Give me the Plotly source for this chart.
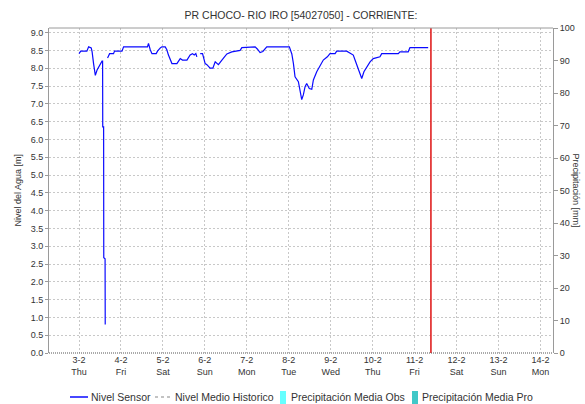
import plotly.graph_objects as go

# ---- data ----
sensor_time = [
    "2022-02-03 00:00", "2022-02-03 01:00", "2022-02-03 04:30", "2022-02-03 05:30",
    "2022-02-03 07:00", "2022-02-03 07:30", "2022-02-03 08:20", "2022-02-03 09:20",
    "2022-02-03 10:20", "2022-02-03 11:45", "2022-02-03 13:10", "2022-02-03 13:30",
    "2022-02-03 13:35", "2022-02-03 14:05", "2022-02-03 14:10", "2022-02-03 14:55",
    "2022-02-03 15:00", "2022-02-03 15:40",
    "2022-02-03 16:20", "2022-02-03 17:30", "2022-02-03 19:45", "2022-02-03 20:20",
    "2022-02-04 00:35", "2022-02-04 01:30", "2022-02-04 15:10", "2022-02-04 15:45",
    "2022-02-04 16:45", "2022-02-04 17:45", "2022-02-04 20:10", "2022-02-04 20:55",
    "2022-02-04 22:30", "2022-02-04 23:25", "2022-02-05 01:20", "2022-02-05 02:15",
    "2022-02-05 03:10", "2022-02-05 05:10", "2022-02-05 08:00", "2022-02-05 09:55",
    "2022-02-05 11:10", "2022-02-05 13:45", "2022-02-05 15:35", "2022-02-05 16:55",
    "2022-02-05 17:55", "2022-02-05 18:50", "2022-02-05 19:25", "2022-02-05 20:20",
    "2022-02-05 21:20", "2022-02-05 22:40", "2022-02-06 00:10", "2022-02-06 01:10",
    "2022-02-06 03:00", "2022-02-06 04:35", "2022-02-06 05:55", "2022-02-06 07:45",
    "2022-02-06 09:45", "2022-02-06 12:35", "2022-02-06 15:25", "2022-02-06 20:10",
    "2022-02-06 21:10", "2022-02-07 04:45", "2022-02-07 06:00", "2022-02-07 07:35",
    "2022-02-07 09:10", "2022-02-07 11:25", "2022-02-08 00:20", "2022-02-08 01:45",
    "2022-02-08 02:40", "2022-02-08 03:35", "2022-02-08 05:30", "2022-02-08 06:30",
    "2022-02-08 07:25", "2022-02-08 08:20", "2022-02-08 09:20", "2022-02-08 10:15",
    "2022-02-08 11:45", "2022-02-08 13:10", "2022-02-08 14:05", "2022-02-08 16:00",
    "2022-02-08 17:55", "2022-02-08 19:45", "2022-02-08 22:05", "2022-02-08 23:35",
    "2022-02-09 02:30", "2022-02-09 03:25", "2022-02-09 09:10", "2022-02-09 11:00",
    "2022-02-09 12:55", "2022-02-09 13:55", "2022-02-09 15:45", "2022-02-09 17:45",
    "2022-02-09 19:00", "2022-02-09 20:35", "2022-02-09 22:30", "2022-02-10 00:20",
    "2022-02-10 04:10", "2022-02-10 05:10", "2022-02-10 14:40", "2022-02-10 15:35",
    "2022-02-10 20:20", "2022-02-10 21:20", "2022-02-11 07:45",
]
sensor_level = [
    8.41, 8.48, 8.48, 8.60,
    8.57, 8.46, 8.13, 7.80,
    7.95, 8.09, 8.20, 8.20,
    6.35, 6.35, 2.68, 2.65,
    0.80, None,
    8.29, 8.41, 8.41, 8.48,
    8.48, 8.60, 8.60, 8.70,
    8.52, 8.41, 8.41, 8.48,
    8.57, 8.60, 8.60, 8.52,
    8.37, 8.13, 8.13, 8.27,
    8.23, 8.23, 8.37, 8.41,
    8.37, 8.41, 8.32, None,
    8.41, 8.41, 8.13, 8.10,
    8.00, 8.00, 8.18, 8.10,
    8.23, 8.40, 8.46, 8.50,
    8.58, 8.60, 8.54, 8.44,
    8.47, 8.60, 8.60, 8.40,
    8.13, 7.76, 7.62, 7.34,
    7.12, 7.25, 7.48, 7.57,
    7.43, 7.41, 7.67, 7.90,
    8.09, 8.23, 8.32, 8.41,
    8.41, 8.48, 8.48, 8.42,
    8.37, 8.23, 8.00, 7.71,
    7.90, 8.04, 8.18, 8.27,
    8.32, 8.41, 8.41, 8.46,
    8.46, 8.58, 8.58,
]
now_time = "2022-02-11 09:20"
day_ticks = [f"2022-02-{d:02d}" for d in range(3, 15)]
day_labels = ["3-2<br>Thu", "4-2<br>Fri", "5-2<br>Sat", "6-2<br>Sun", "7-2<br>Mon",
              "8-2<br>Tue", "9-2<br>Wed", "10-2<br>Thu", "11-2<br>Fri", "12-2<br>Sat",
              "13-2<br>Sun", "14-2<br>Mon"]
x_range = ["2022-02-02 06:50", "2022-02-14 07:10"]
level_ticks = [i * 0.5 for i in range(19)]
precip_ticks = list(range(0, 101, 10))
legend_names = ["Nivel Sensor", "Nivel Medio Historico",
                "Precipitación Media Obs", "Precipitación Media Pro"]

FONT = "Liberation Sans, Arial, sans-serif"
TXT = "#333333"
C_SENSOR, C_HIST, C_OBS, C_PRO = "#0a0aff", "#b0b0b0", "#66ffff", "#40c8c8"
GRID = "#c8c8c8"

# plot area in pixels (for placing the hand-made legend)
W, H = 585, 404
L, R, T, B = 49, 553, 28, 353
def px(x):
    return (x - L) / (R - L)
def py(y):
    return (B - y) / (B - T)

fig = go.Figure()
fig.add_trace(go.Scatter(x=sensor_time, y=sensor_level, mode="lines", name=legend_names[0],
                         line=dict(color=C_SENSOR, width=1.2), connectgaps=False,
                         showlegend=False))
fig.add_trace(go.Scatter(x=[sensor_time[0]], y=[None], mode="lines", name=legend_names[1],
                         line=dict(color=C_HIST, width=1.5, dash="dot"), showlegend=False))
fig.add_trace(go.Bar(x=[sensor_time[0]], y=[None], name=legend_names[2],
                     marker_color=C_OBS, yaxis="y2", showlegend=False))
fig.add_trace(go.Bar(x=[sensor_time[0]], y=[None], name=legend_names[3],
                     marker_color=C_PRO, yaxis="y2", showlegend=False))

shapes = [
    dict(type="line", xref="x", yref="paper", x0=now_time, x1=now_time, y0=0, y1=1,
         line=dict(color="#e02020", width=1.6)),
    dict(type="line", xref="paper", yref="paper", x0=0, x1=1, y0=1, y1=1,
         line=dict(color="#9a9a9a", width=1)),
    dict(type="line", xref="paper", yref="paper", x0=0, x1=1, y0=0, y1=0,
         line=dict(color="#555555", width=1, dash="1px,1px")),
    # legend symbols
    dict(type="line", xref="paper", yref="paper", x0=px(70), x1=px(88), y0=py(397), y1=py(397),
         line=dict(color=C_SENSOR, width=1.5)),
    dict(type="line", xref="paper", yref="paper", x0=px(155), x1=px(171), y0=py(397), y1=py(397),
         line=dict(color=C_HIST, width=1.5, dash="3px,3px")),
    dict(type="rect", xref="paper", yref="paper", x0=px(280), x1=px(286), y0=py(404), y1=py(391),
         line=dict(width=0), fillcolor=C_OBS),
    dict(type="rect", xref="paper", yref="paper", x0=px(412), x1=px(418), y0=py(404), y1=py(391),
         line=dict(width=0), fillcolor=C_PRO),
]

legend_text_x = [89, 173, 289, 420]
annotations = [
    dict(text="Nivel del Agua [m]", xref="paper", yref="paper", x=px(17), y=0.5,
         textangle=-90, showarrow=False, font=dict(size=9, color=TXT, family=FONT),
         xanchor="center", yanchor="middle"),
    dict(text="Precipitación [mm]", xref="paper", yref="paper", x=px(576), y=0.5,
         textangle=90, showarrow=False, font=dict(size=9, color=TXT, family=FONT),
         xanchor="center", yanchor="middle"),
]
for name, tx in zip(legend_names, legend_text_x):
    annotations.append(dict(text=name, xref="paper", yref="paper", x=px(tx), y=py(397),
                            xanchor="left", yanchor="middle", showarrow=False,
                            font=dict(size=10.5, color=TXT, family=FONT)))

fig.update_layout(
    width=W, height=H,
    margin=dict(l=L, r=W - R, t=T, b=H - B, autoexpand=False),
    paper_bgcolor="white", plot_bgcolor="white",
    font=dict(family=FONT, size=9, color=TXT),
    title=dict(text="PR CHOCO- RIO IRO [54027050] - CORRIENTE:", x=px(301), xanchor="center",
               xref="paper", y=1 - 15 / H, yref="container", yanchor="middle",
               font=dict(size=10.5, color=TXT, family=FONT)),
    xaxis=dict(range=x_range, tickvals=day_ticks, ticktext=day_labels, showgrid=True,
               gridcolor=GRID, griddash="2px,2px", gridwidth=1, showline=False,
               zeroline=False, ticks="", tickfont=dict(size=9, color=TXT)),
    yaxis=dict(range=[0, 9.13], tickvals=level_ticks, tickformat=".1f", showgrid=True,
               gridcolor=GRID, griddash="2px,2px", gridwidth=1, showline=True,
               linecolor="#9a9a9a", linewidth=1, ticks="outside", ticklen=3,
               tickcolor="#9a9a9a", zeroline=False, tickfont=dict(size=9, color=TXT)),
    yaxis2=dict(range=[0, 100], tickvals=precip_ticks, overlaying="y", side="right",
                showgrid=False, showline=True, linecolor="#9a9a9a", linewidth=1,
                ticks="outside", ticklen=4, tickcolor="#9a9a9a", zeroline=False,
                tickfont=dict(size=9, color=TXT)),
    showlegend=False,
    shapes=shapes,
    annotations=annotations,
)

fig.write_html("out.html", config={"displayModeBar": False},
               post_script="document.body.style.margin='0px';document.body.style.overflow='hidden';")
